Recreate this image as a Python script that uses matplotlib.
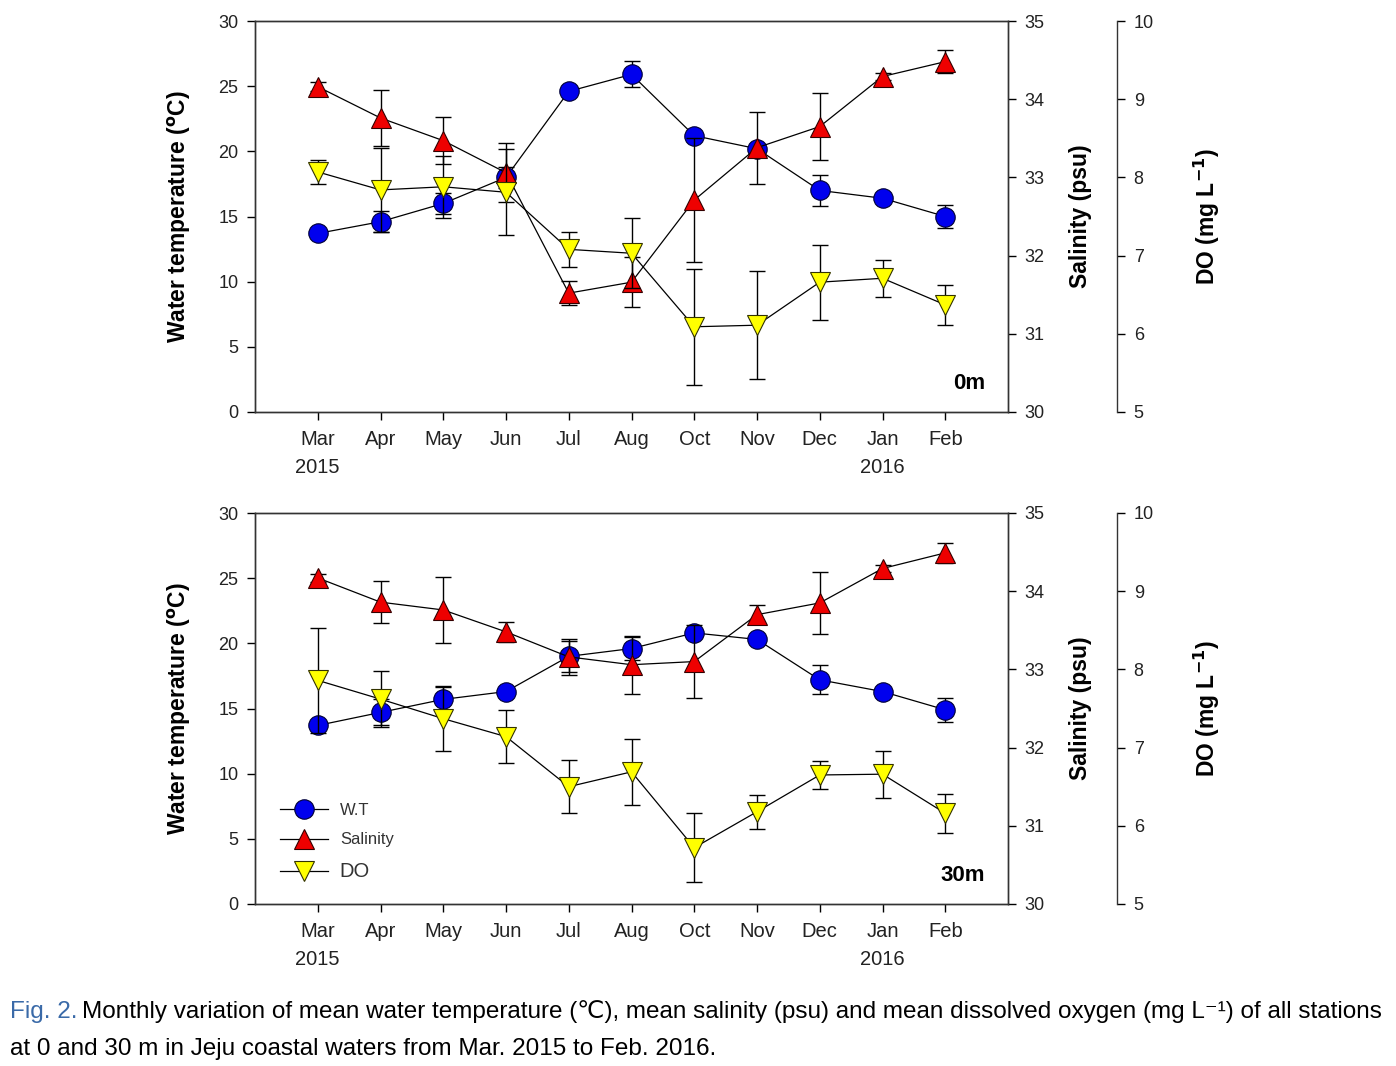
import numpy as np
import matplotlib
matplotlib.use("Agg")
import matplotlib.pyplot as plt
from matplotlib.lines import Line2D

plt.rcParams['font.family'] = ['Liberation Sans', 'DejaVu Sans']

# months on the x axis
months = ["Mar\n2015", "Apr", "May", "Jun", "Jul", "Aug", "Oct", "Nov", "Dec", "Jan\n2016", "Feb"]

# 0 m
wt_0 = [13.7, 14.6, 16.0, 18.0, 24.6, 25.9, 21.2, 20.2, 17.0, 16.4, 15.0]
wt_0_err = [0.3, 0.8, 0.8, 0.8, 0.3, 1.0, 0.3, 0.3, 1.2, 0.3, 0.9]
sal_0 = [34.16, 33.76, 33.47, 33.06, 31.52, 31.66, 32.71, 33.38, 33.65, 34.29, 34.48]
sal_0_err = [0.06, 0.36, 0.30, 0.38, 0.15, 0.32, 0.79, 0.46, 0.43, 0.05, 0.15]
do_0 = [8.07, 7.84, 7.88, 7.81, 7.08, 7.03, 6.09, 6.11, 6.66, 6.71, 6.37]
do_0_err = [0.15, 0.54, 0.40, 0.55, 0.22, 0.45, 0.74, 0.69, 0.48, 0.24, 0.26]

# 30 m
wt_30 = [13.7, 14.7, 15.7, 16.3, 19.0, 19.6, 20.8, 20.3, 17.2, 16.3, 14.9]
wt_30_err = [0.3, 1.0, 1.0, 0.3, 1.2, 0.9, 0.3, 0.3, 1.1, 0.3, 0.9]
sal_30 = [34.17, 33.86, 33.76, 33.48, 33.16, 33.06, 33.10, 33.70, 33.85, 34.29, 34.49]
sal_30_err = [0.05, 0.27, 0.42, 0.13, 0.23, 0.37, 0.47, 0.12, 0.40, 0.05, 0.13]
do_30 = [7.86, 7.62, 7.37, 7.14, 6.50, 6.69, 5.72, 6.18, 6.65, 6.66, 6.16]
do_30_err = [0.67, 0.36, 0.41, 0.34, 0.34, 0.42, 0.44, 0.22, 0.18, 0.30, 0.25]

panels = [
    (wt_0, wt_0_err, sal_0, sal_0_err, do_0, do_0_err, "0m"),
    (wt_30, wt_30_err, sal_30, sal_30_err, do_30, do_30_err, "30m"),
]

W, H = 1396, 1066
fig = plt.figure(figsize=(W / 100, H / 100), dpi=100)

x = np.arange(len(months))
ax_left, ax_right = 255, 1008
tops = [21, 513]
ax_h = 391

ms = 14
ekw = dict(ecolor="black", elinewidth=1.0, capsize=6, capthick=1.0)
wt_style = dict(color="black", lw=0.9, marker="o", ms=ms, mfc="#0000ee", mec="#000033", mew=0.8)
sal_style = dict(color="black", lw=0.9, marker="^", ms=ms + 1, mfc="#ee0000", mec="#330000", mew=0.8)
do_style = dict(color="black", lw=0.9, marker="v", ms=ms + 1, mfc="#ffff00", mec="#333300", mew=0.8)

for i, (wt, wte, sal, sale, do, doe, tag) in enumerate(panels):
    ax = fig.add_axes([ax_left / W, 1 - (tops[i] + ax_h) / H,
                       (ax_right - ax_left) / W, ax_h / H])
    ax2 = ax.twinx()
    ax3 = ax.twinx()
    ax3.spines["right"].set_position(("axes", (1117 - ax_left) / (ax_right - ax_left)))
    for s in ["top", "bottom", "left"]:
        ax3.spines[s].set_visible(False)
    ax3.patch.set_visible(False)
    ax2.patch.set_visible(False)

    ax.errorbar(x, wt, yerr=wte, fmt="none", zorder=1, **ekw)
    ax.plot(x, wt, "-", zorder=2, **wt_style)
    ax2.errorbar(x, sal, yerr=sale, fmt="none", zorder=1, **ekw)
    ax2.plot(x, sal, "-", zorder=2, **sal_style)
    ax3.errorbar(x, do, yerr=doe, fmt="none", zorder=1, **ekw)
    ax3.plot(x, do, "-", zorder=2, **do_style)

    ax.set_xlim(-1, 11)
    ax.set_ylim(0, 30)
    ax2.set_ylim(30, 35)
    ax3.set_ylim(5, 10)
    ax.set_yticks(range(0, 31, 5))
    ax2.set_yticks(range(30, 36))
    ax3.set_yticks(range(5, 11))
    ax.set_xticks(x)
    ax.set_xticklabels(months)

    for a in (ax, ax2, ax3):
        a.tick_params(direction="out", length=6, width=1, labelsize=13,
                      labelcolor="#222222", pad=6)
        for s in a.spines.values():
            s.set_linewidth(1.0)
            s.set_color("#333333")
    ax.tick_params(axis="x", pad=7, labelsize=14.5)
    for lab in ax.get_xticklabels():
        lab.set_linespacing(1.6)

    ax.set_ylabel(r"Water temperature ($\mathbf{^{o}}$C)", fontsize=16.5, fontweight="bold")
    ax.yaxis.set_label_coords(-0.083, 0.5)
    ax2.set_ylabel("Salinity (psu)", fontsize=16.5, fontweight="bold")
    ax2.yaxis.set_label_coords(1.081, 0.5)
    ax3.set_ylabel(r"DO (mg L$\mathbf{^{-1}}$)", fontsize=16.5, fontweight="bold")
    ax3.yaxis.set_label_coords(1.244, 0.5)

    ax.text(0.97, 0.045, tag, transform=ax.transAxes, ha="right", va="bottom",
            fontsize=16, fontweight="bold")

    if i == 1:
        handles = [Line2D([], [], **wt_style), Line2D([], [], **sal_style),
                   Line2D([], [], **do_style)]
        leg = ax.legend(handles, ["W.T", "Salinity", "DO"], loc="lower left",
                        bbox_to_anchor=(0.033, 0.06), frameon=False, fontsize=12,
                        handlelength=2.9, labelspacing=0.85, handletextpad=0.7,
                        borderpad=0, borderaxespad=0)
        leg.get_texts()[2].set_fontsize(14.5)
        for t in leg.get_texts():
            t.set_color("#333333")

# caption
cap_size = 17.5
t1 = fig.text(10 / W, 1 - 1012 / H, "Fig. 2.", color="#3a6aa8", fontsize=cap_size,
              va="center", ha="left")
fig.canvas.draw()
bb = t1.get_window_extent()
fig.text((bb.x1 + 4) / W, 1 - 1012 / H,
         "Monthly variation of mean water temperature (\u2103), mean salinity (psu) and mean dissolved oxygen (mg L\u207b\u00b9) of all stations",
         color="black", fontsize=cap_size, va="center", ha="left")
fig.text(10 / W, 1 - 1049 / H,
         "at 0 and 30 m in Jeju coastal waters from Mar. 2015 to Feb. 2016.",
         color="black", fontsize=cap_size, va="center", ha="left")

fig.savefig("out.png", dpi=100)
